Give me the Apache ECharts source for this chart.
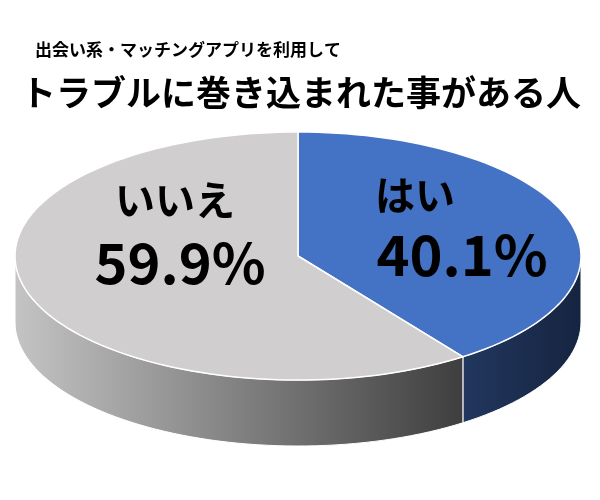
<!DOCTYPE html>
<html><head><meta charset="utf-8">
<script src="https://cdn.jsdelivr.net/npm/echarts@6/dist/echarts.min.js"></script>
<style>html,body{margin:0;background:#fff}#c{width:600px;height:500px}</style>
</head><body><div id="c"></div>
<script>
const categories = ['はい', 'いいえ'];
const values = [40.1, 59.9];
const subtitle = '出会い系・マッチングアプリを利用して';
const mainTitle = 'トラブルに巻き込まれた事がある人';

const chart = echarts.init(document.getElementById('c'));
const cx = 298, cy = 256, rx = 283, ry = 124, depth = 66;
const topColors = ['#4472c4', '#d0cece'];
function pt(a, dy) { const r = a * Math.PI / 180; return [cx + rx * Math.sin(r), cy - ry * Math.cos(r) + (dy || 0)]; }
function arc(a, b, dy) { const p = []; const n = Math.max(2, Math.ceil(Math.abs(b - a) / 2)); for (let i = 0; i <= n; i++) p.push(pt(a + (b - a) * i / n, dy)); return p; }

function renderItem(params, api) {
  const total = values.reduce((s, v) => s + v, 0);
  const children = [];
  let start = 0;
  const slices = values.map(v => { const s = start, e = start + v / total * 360; start = e; return [s, e]; });
  const sideFills = [
    new echarts.graphic.LinearGradient(0, 0, 1, 0, [{offset: 0, color: '#22375f'}, {offset: 1, color: '#152440'}]),
    new echarts.graphic.LinearGradient(0, 0, 1, 0, [{offset: 0, color: '#c4c4c4'}, {offset: 1, color: '#3e3e3e'}])
  ];
  slices.forEach(([s, e], i) => {
    const a = Math.max(s, 90), b = Math.min(e, 270);
    if (b > a) {
      const top = arc(a, b, 0), bot = arc(b, a, depth);
      children.push({type: 'polygon', shape: {points: top.concat(bot)}, style: {fill: sideFills[i], stroke: '#fff', lineWidth: 1}});
    }
  });
  slices.forEach(([s, e], i) => {
    children.push({type: 'polygon', shape: {points: [[cx, cy]].concat(arc(s, e, 0))}, style: {fill: topColors[i], stroke: '#fff', lineWidth: 1.5}});
  });
  const font = '"Noto Sans CJK JP", sans-serif';
  const lab = [[415, 195, 462, 255], [175, 200, 180, 263]];
  values.forEach((v, i) => {
    children.push({type: 'text', style: {text: categories[i], x: lab[i][0], y: lab[i][1], fill: '#000', font: 'bold 40px ' + font, textAlign: 'center', textVerticalAlign: 'middle'}});
    children.push({type: 'text', style: {text: v.toFixed(1) + '%', x: lab[i][2], y: lab[i][3], fill: '#000', font: 'bold 56px ' + font, textAlign: 'center', textVerticalAlign: 'middle'}});
  });
  return {type: 'group', children};
}

chart.setOption({
  animation: false,
  title: [
    {text: subtitle, left: 30, top: 36, textStyle: {fontSize: 17, fontWeight: 'bold', color: '#000', fontFamily: '"Noto Sans CJK JP"'}},
    {text: mainTitle, left: 16, top: 70, textStyle: {fontSize: 35, fontWeight: 'bold', color: '#000', fontFamily: '"Noto Sans CJK JP"'}}
  ],
  series: [{type: 'custom', coordinateSystem: 'none', renderItem, data: [0]}]
});
</script></body></html>
